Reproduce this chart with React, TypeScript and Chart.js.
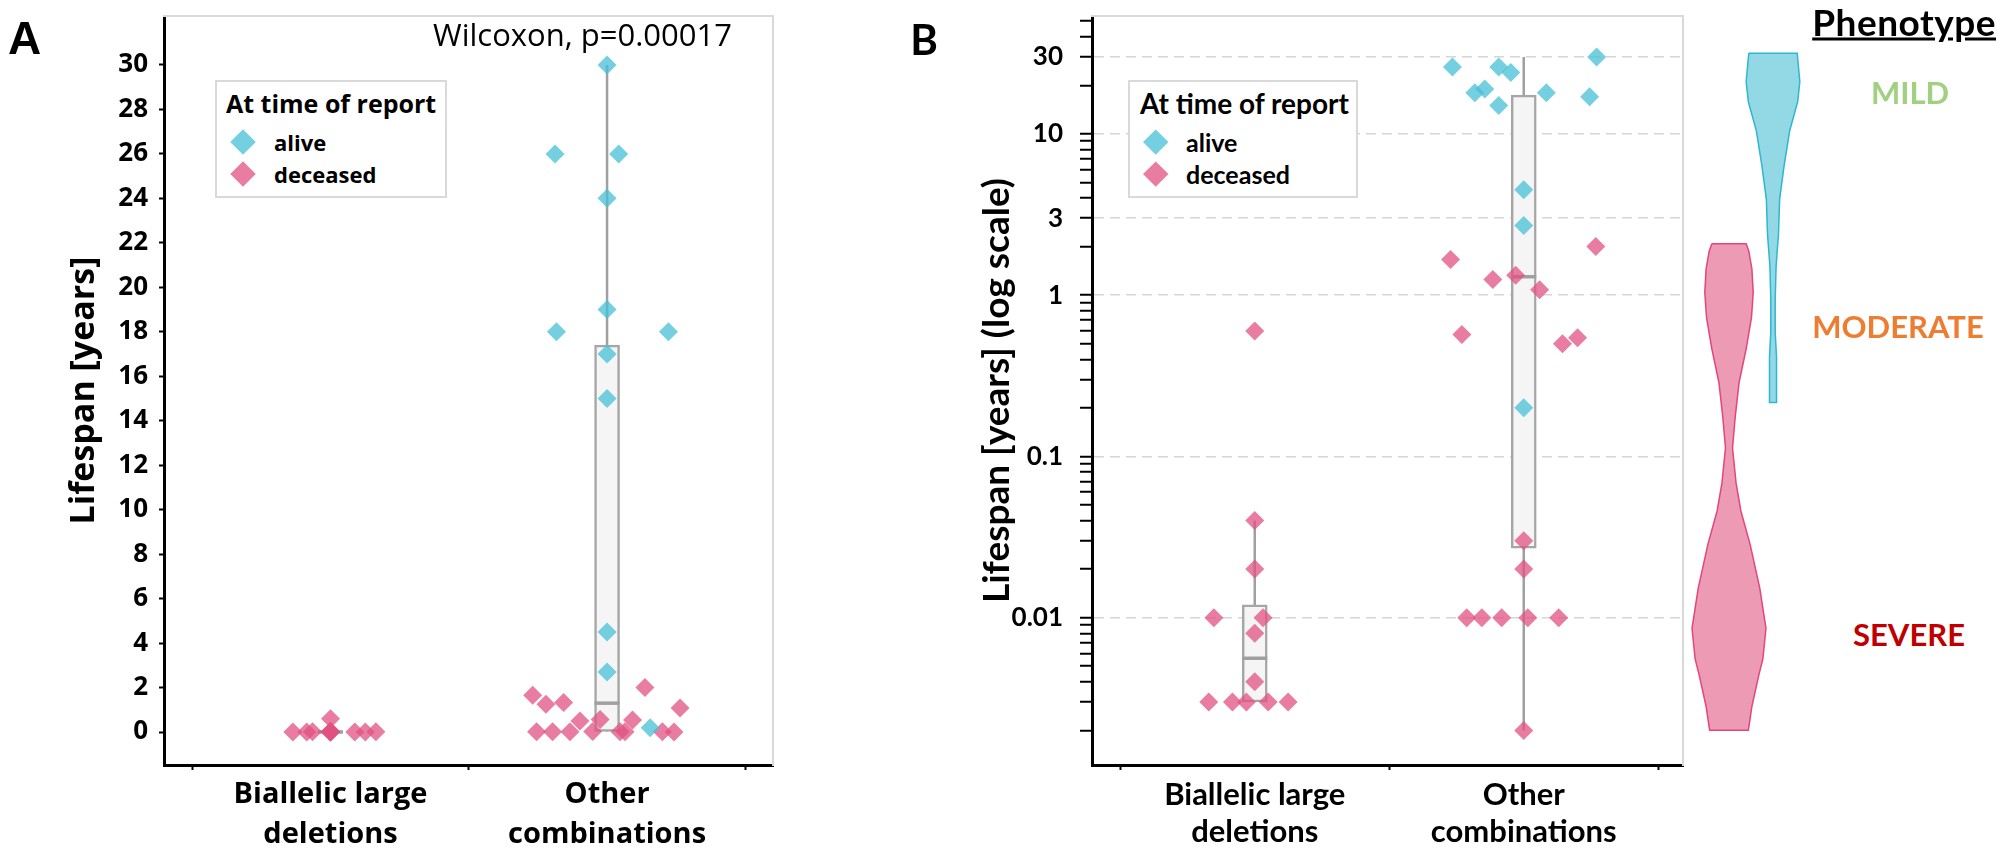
import React, { useEffect, useRef } from 'react';
import { Chart, registerables } from 'chart.js';

Chart.register(...registerables);

// ---------------- data ----------------
const categoryTickLabels = [['Biallelic large', 'deletions'], ['Other', 'combinations']];
const categoryPositions = [1, 2];

// Lifespan (years), deceased, biallelic large deletions
const biallelicDeceased = [0.6, 0.04, 0.02, 0.01, 0.01, 0.008, 0.004, 0.003, 0.003, 0.003, 0.003, 0.003];
const biallelicDeceasedJitterA = [0, 0, 0, -0.065, 0.164, 0, 0, -0.136, -0.086, 0, 0.088, 0.126];
const biallelicDeceasedJitterB = [0, 0, 0, -0.152, 0.031, 0, 0, -0.171, -0.083, -0.031, 0.05, 0.124];

// Lifespan (years), alive, other combinations
const otherAlive = [30, 26, 26, 24, 19, 18, 18, 17, 15, 4.5, 2.7, 0.2];
const otherAliveJitterA = [0, -0.188, 0.042, 0, 0, -0.183, 0.222, 0, 0, 0, 0, 0.156];
const otherAliveJitterB = [0.271, -0.265, -0.093, -0.048, -0.145, -0.182, 0.084, 0.245, -0.093, 0, 0, 0];

// Lifespan (years), deceased, other combinations
const otherDeceased = [2.0, 1.66, 1.33, 1.25, 1.08, 0.57, 0.545, 0.5, 0.03, 0.02, 0.01, 0.01, 0.01, 0.01, 0.01, 0.002];
const otherDeceasedJitterA = [0.137, -0.269, -0.157, -0.221, 0.264, -0.025, 0.092, -0.098, -0.052, 0.047, -0.255, -0.197, -0.134, 0.065, 0.2, 0.242];
const otherDeceasedJitterB = [0.268, -0.272, -0.03, -0.115, 0.059, -0.23, 0.2, 0.144, 0, 0, -0.212, -0.156, -0.082, 0.015, 0.13, 0];

// box plot statistics per category
const boxQ1 = [0.003, 0.027];
const boxMedian = [0.0056, 1.3];
const boxQ3 = [0.012, 17.4];
const whiskerLow = [0.003, 0.002];
const whiskerHigh = [0.04, 30];

// axis ticks
const linearTickValues = [0, 2, 4, 6, 8, 10, 12, 14, 16, 18, 20, 22, 24, 26, 28, 30];
const logLabelValues = [0.01, 0.1, 1, 3, 10, 30];
const logTickLabels = ['0.01', '0.1', '1', '3', '10', '30'];
const logMinorTickValues = [
  0.002, 0.003, 0.004, 0.005, 0.006, 0.007, 0.008, 0.009,
  0.02, 0.03, 0.04, 0.05, 0.06, 0.07, 0.08, 0.09,
  0.2, 0.3, 0.4, 0.5, 0.6, 0.7, 0.8, 0.9,
  2, 4, 5, 6, 7, 8, 9,
  20, 40, 50,
];

// phenotype violins (value, relative half-width)
const violinDeceasedValues = [2.0, 1.8, 1.4, 1.0, 0.7, 0.45, 0.28, 0.17, 0.11, 0.067, 0.045, 0.028, 0.015, 0.0085, 0.0055, 0.0044, 0.0028, 0.002];
const violinDeceasedWidths = [0.39, 0.45, 0.52, 0.55, 0.51, 0.39, 0.23, 0.14, 0.08, 0.16, 0.27, 0.48, 0.7, 0.84, 0.77, 0.68, 0.52, 0.44];
const violinAliveValues = [30, 20, 15, 10, 6, 3.75, 2.3, 1.45, 0.9, 0.57, 0.4, 0.21];
const violinAliveWidths = [0.55, 0.61, 0.56, 0.38, 0.25, 0.15, 0.125, 0.07, 0.05, 0.05, 0.08, 0.08];
const violinCenters = [1, 2];

// ---------------- style ----------------
const BLUE = 'rgba(69,192,214,0.75)';
const PINK = 'rgba(224,82,130,0.75)';
const LOG_MIN = 0.00122;
const LOG_MAX = 53.8;
const FONT_A = "'Open Sans', sans-serif";
const FONT_B = "Lato, sans-serif";

const isLabeled = (v: number) => logLabelValues.some((m) => Math.abs(v - m) < m * 1e-6);
const labelFor = (v: number) => {
  const i = logLabelValues.findIndex((m) => Math.abs(v - m) < m * 1e-6);
  return i >= 0 ? logTickLabels[i] : '';
};

const noPad = (s: any) => { s.paddingTop = 0; s.paddingBottom = 0; s.paddingLeft = 0; s.paddingRight = 0; };

function frameScales() {
  return {
    x2: {
      type: 'linear', position: 'top', min: 0, max: 1, display: true,
      afterFit: (s: any) => { s.height = 0; noPad(s); },
      ticks: { display: false }, grid: { display: false },
      border: { display: true, color: '#d9d9d9', width: 2 },
    },
    y2: {
      type: 'linear', position: 'right', min: 0, max: 1, display: true,
      afterFit: (s: any) => { s.width = 0; noPad(s); },
      ticks: { display: false }, grid: { display: false },
      border: { display: true, color: '#d9d9d9', width: 2 },
    },
  };
}

function panelConfig(isB: boolean): any {
  const jb = isB ? biallelicDeceasedJitterB : biallelicDeceasedJitterA;
  const joa = isB ? otherAliveJitterB : otherAliveJitterA;
  const jod = isB ? otherDeceasedJitterB : otherDeceasedJitterA;
  const deceasedPts = [
    ...biallelicDeceased.map((v, i) => ({ x: categoryPositions[0] + jb[i], y: v })),
    ...otherDeceased.map((v, i) => ({ x: categoryPositions[1] + jod[i], y: v })),
  ];
  const alivePts = otherAlive.map((v, i) => ({ x: categoryPositions[1] + joa[i], y: v }));
  const whiskerPts: any[] = [];
  categoryPositions.forEach((c, i) => {
    whiskerPts.push({ x: c, y: whiskerHigh[i] }, { x: c, y: boxQ3[i] }, { x: c, y: null },
      { x: c, y: boxQ1[i] }, { x: c, y: whiskerLow[i] }, { x: c, y: null });
  });
  const font = isB ? FONT_B : FONT_A;

  const yScale: any = isB
    ? {
        type: 'logarithmic', min: LOG_MIN, max: LOG_MAX,
        afterBuildTicks: (s: any) => {
          s.ticks = [...logMinorTickValues, ...logLabelValues].sort((a, b) => a - b).map((v) => ({ value: v }));
        },
        afterFit: (s: any) => { s.width = 212; noPad(s); },
        ticks: { autoSkip: false, padding: 17, color: '#000', font: { family: font, size: 26, weight: 'bold' }, callback: (v: number) => labelFor(v) },
        grid: {
          display: true, drawOnChartArea: true, lineWidth: 1.5,
          color: (ctx: any) => (ctx.tick && isLabeled(ctx.tick.value) ? '#d6d6d6' : 'rgba(0,0,0,0)'),
          tickLength: 12, tickColor: '#000', tickWidth: 2,
        },
        border: { display: true, color: '#000', width: 3, dash: [10, 6] },
        title: { display: true, text: 'Lifespan [years] (log scale)', color: '#000', font: { family: font, size: 37, weight: 'bold', lineHeight: 1.2 }, padding: { top: 95, bottom: 0 } },
      }
    : {
        type: 'linear', min: -1.48, max: 32.2,
        afterBuildTicks: (s: any) => { s.ticks = linearTickValues.map((v) => ({ value: v })); },
        afterFit: (s: any) => { s.width = 164; noPad(s); },
        ticks: { autoSkip: false, padding: 11, color: '#000', font: { family: font, size: 26, weight: 'bold' } },
        grid: { display: true, drawOnChartArea: false, tickLength: 5, tickColor: '#000', tickWidth: 2 },
        border: { display: true, color: '#000', width: 3 },
        title: { display: true, text: 'Lifespan [years]', color: '#000', font: { family: font, size: 34, weight: 'bold', lineHeight: 1.2 }, padding: { top: 64, bottom: 0 } },
      };

  return {
    type: 'scatter',
    data: {
      datasets: [
        { type: 'line', label: 'whisker', data: whiskerPts, borderColor: '#a0a0a0', borderWidth: 2.5, pointRadius: 0, spanGaps: false, fill: false, order: 5 },
        { type: 'bar', label: 'box', data: categoryPositions.map((c, i) => ({ x: c, y: [boxQ1[i], boxQ3[i]] })), backgroundColor: '#f5f5f5', borderColor: '#a6a6a6', borderWidth: 2.5, borderSkipped: false, barThickness: 25, order: 4 },
        { type: 'scatter', label: 'median', data: categoryPositions.map((c, i) => ({ x: c, y: boxMedian[i] })), pointStyle: 'line', pointRadius: 12.5, pointBorderColor: '#a0a0a0', pointBorderWidth: 3.5, order: 3 },
        { type: 'scatter', label: 'deceased', data: deceasedPts, pointStyle: 'rectRot', pointRadius: 9.5, pointBackgroundColor: PINK, pointBorderWidth: 0, backgroundColor: PINK, borderWidth: 0, order: 1 },
        { type: 'scatter', label: 'alive', data: alivePts, pointStyle: 'rectRot', pointRadius: 9.5, pointBackgroundColor: BLUE, pointBorderWidth: 0, backgroundColor: BLUE, borderWidth: 0, order: 0 },
      ],
    },
    options: {
      animation: false, responsive: false, maintainAspectRatio: false, devicePixelRatio: 1, events: [],
      layout: { padding: { left: 0, top: 12, right: 17, bottom: 0 } },
      plugins: { legend: { display: false }, tooltip: { enabled: false } },
      scales: {
        x: {
          type: 'linear', min: isB ? 0.395 : 0.398, max: isB ? 2.592 : 2.6, offset: false,
          afterBuildTicks: (s: any) => { s.ticks = categoryPositions.map((v) => ({ value: v })); },
          afterFit: (s: any) => { s.height = 87; noPad(s); },
          ticks: {
            autoSkip: false, maxRotation: 0, minRotation: 0, padding: isB ? 6 : 5, color: '#000',
            font: isB ? { family: font, size: 31, weight: 'bold', lineHeight: 1.2 } : { family: font, size: 29, weight: 'bold', lineHeight: 1.38 },
            callback: (_v: number, i: number) => categoryTickLabels[i],
          },
          grid: { display: true, drawOnChartArea: false, tickLength: 5, tickColor: '#000', tickWidth: 2 },
          border: { display: true, color: '#000', width: 3 },
        },
        y: yScale,
        ...frameScales(),
      },
    },
  };
}

function violinPolygon(values: number[], widths: number[], center: number) {
  const left = values.map((v, i) => ({ x: center - widths[i], y: v }));
  const right = values.map((v, i) => ({ x: center + widths[i], y: v })).reverse();
  return [...left, ...right, left[0]];
}

function violinConfig(): any {
  return {
    type: 'scatter',
    data: {
      datasets: [
        { type: 'line', label: 'deceased', data: violinPolygon(violinDeceasedValues, violinDeceasedWidths, violinCenters[0]), fill: 'shape', backgroundColor: '#ed9ab5', borderColor: '#e3467c', borderWidth: 1.5, pointRadius: 0, tension: 0 },
        { type: 'line', label: 'alive', data: violinPolygon(violinAliveValues, violinAliveWidths, violinCenters[1]), fill: 'shape', backgroundColor: '#93d9e5', borderColor: '#2fb6d0', borderWidth: 1.5, pointRadius: 0, tension: 0 },
      ],
    },
    options: {
      animation: false, responsive: false, maintainAspectRatio: false, devicePixelRatio: 1, events: [],
      layout: { padding: { left: 0, top: 12, right: 0, bottom: 87 } },
      plugins: { legend: { display: false }, tooltip: { enabled: false } },
      scales: {
        x: { type: 'linear', display: false, min: 0, max: 3 },
        y: { type: 'logarithmic', display: false, min: LOG_MIN, max: LOG_MAX },
      },
    },
  };
}

function ChartCanvas({ left, width, build }: { left: number; width: number; build: () => any }) {
  const ref = useRef<HTMLCanvasElement>(null);
  useEffect(() => {
    const chart = new Chart(ref.current as HTMLCanvasElement, build());
    return () => chart.destroy();
  }, []);
  return (
    <canvas ref={ref} width={width} height={852}
      style={{ position: 'absolute', left, top: 0, width, height: 852 }} />
  );
}

function Txt({ x, y, anchor = 'start', style, children }: any) {
  const tx = anchor === 'middle' ? '-50%' : anchor === 'end' ? '-100%' : '0';
  return (
    <div style={{ position: 'absolute', left: x, top: y, transform: `translate(${tx}, -50%)`, whiteSpace: 'nowrap', lineHeight: 1, ...style }}>
      {children}
    </div>
  );
}

function Diamond({ cx, cy, size, color }: any) {
  return (
    <div style={{ position: 'absolute', left: cx - size / 2, top: cy - size / 2, width: size, height: size, background: color, transform: 'rotate(45deg)' }} />
  );
}

function LegendBox({ left, width, titleX, markerX, textX, family, titleSize, itemSize, markerSize }: any) {
  return (
    <>
      <div style={{ position: 'absolute', left, top: 80, width, height: 118, boxSizing: 'border-box', border: '2px solid #d9d9d9', background: '#fff' }} />
      <Txt x={titleX} y={103} style={{ fontFamily: family, fontWeight: 700, fontSize: titleSize, color: '#000' }}>At time of report</Txt>
      <Diamond cx={markerX} cy={142} size={markerSize} color={BLUE} />
      <Txt x={textX} y={142} style={{ fontFamily: family, fontWeight: 700, fontSize: itemSize, color: '#000' }}>alive</Txt>
      <Diamond cx={markerX} cy={174} size={markerSize} color={PINK} />
      <Txt x={textX} y={174} style={{ fontFamily: family, fontWeight: 700, fontSize: itemSize, color: '#000' }}>deceased</Txt>
    </>
  );
}

export default function App() {
  return (
    <div style={{ position: 'absolute', left: 0, top: 0, width: 2008, height: 852, overflow: 'hidden', background: '#fff' }}>
      <ChartCanvas left={0} width={790} build={() => panelConfig(false)} />
      <ChartCanvas left={880} width={820} build={() => panelConfig(true)} />
      <ChartCanvas left={1685} width={132} build={() => violinConfig()} />

      <Txt x={24.5} y={38} anchor="middle" style={{ fontFamily: "'Liberation Sans', Arial, sans-serif", fontWeight: 700, fontSize: 46 }}>A</Txt>
      <Txt x={924} y={39} anchor="middle" style={{ fontFamily: FONT_B, fontWeight: 700, fontSize: 42 }}>B</Txt>
      <Txt x={732} y={34} anchor="end" style={{ fontFamily: FONT_A, fontWeight: 400, fontSize: 31 }}>Wilcoxon, p=0.00017</Txt>

      <LegendBox left={215} width={232} titleX={226} markerX={243} textX={274} family={FONT_A} titleSize={25} itemSize={22} markerSize={18} />
      <LegendBox left={1128} width={230} titleX={1140} markerX={1156} textX={1186} family={FONT_B} titleSize={28} itemSize={25} markerSize={17.5} />

      <Txt x={1996} y={21} anchor="end" style={{ fontFamily: FONT_B, fontWeight: 700, fontSize: 37, letterSpacing: 0.5, textDecoration: 'underline', color: '#000' }}>Phenotype</Txt>
      <Txt x={1910} y={92} anchor="middle" style={{ fontFamily: FONT_B, fontWeight: 700, fontSize: 31, color: '#a0d080' }}>MILD</Txt>
      <Txt x={1898} y={326} anchor="middle" style={{ fontFamily: FONT_B, fontWeight: 700, fontSize: 31, color: '#ed7d31' }}>MODERATE</Txt>
      <Txt x={1909} y={634} anchor="middle" style={{ fontFamily: FONT_B, fontWeight: 700, fontSize: 31, color: '#c00000' }}>SEVERE</Txt>
    </div>
  );
}
